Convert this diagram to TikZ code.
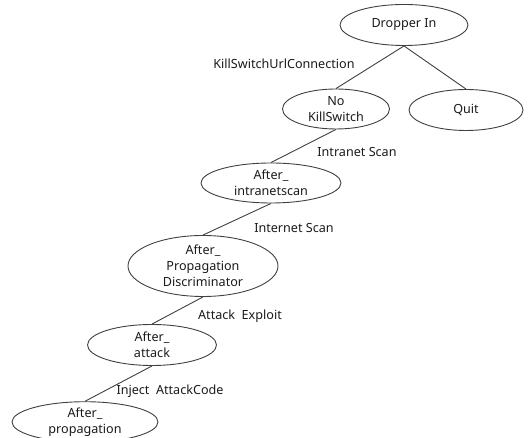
\documentclass[tikz,border=0pt]{standalone}
\usepackage{fontspec}
\setmainfont{Noto Sans}
\usetikzlibrary{shapes.geometric}
\definecolor{TreeLine}{HTML}{404040}
\definecolor{TreeText}{HTML}{1A1A1A}

\tikzset{
  state/.style={ellipse,draw=TreeLine,line width=0.9pt,inner sep=0pt,align=center,
    text=TreeText,font=\fontsize{12.6}{16}\selectfont},
  trans/.style={text=TreeText,inner sep=0pt,font=\fontsize{12.6}{16}\selectfont},
  link/.style={draw=TreeLine,line width=0.9pt}
}

\begin{document}
\begin{tikzpicture}[x=1pt,y=1pt]
\path[use as bounding box] (0,0) rectangle (530,438);
% states (y counted up from the bottom edge)
\node[state,minimum width=128,minimum height=41] (dropper) at (404,413) {Dropper In};
\node[state,minimum width=107,minimum height=40] (nokill) at (336,329) {No\\KillSwitch};
\node[state,minimum width=114,minimum height=41] (quit) at (466,328) {Quit};
\node[state,minimum width=140,minimum height=40] (intra) at (271,255) {After\_\\intranetscan};
\node[state,minimum width=150,minimum height=61] (discr) at (203,172) {After\_\\Propagation\\Discriminator};
\node[state,minimum width=129,minimum height=41] (attack) at (152,93) {After\_\\attack};
\node[state,minimum width=146,minimum height=34] (propag) at (85,16) {After\_\\propagation};
% transitions
\draw[link] (dropper.south) -- (nokill.north);
\draw[link] (dropper.south) -- (quit.north);
\draw[link] (nokill.south) -- (intra.north);
\draw[link] (intra.south) -- (discr.north);
\draw[link] (discr.south) -- (attack.north);
\draw[link] (attack.south) -- (propag.north);
% labels
\node[trans] (lkill) at (284,374) {KillSwitchUrlConnection};
\node[trans] (lintra) at (357,286) {Intranet Scan};
\node[trans] (linter) at (294,210) {Internet Scan};
\node[trans] (lexpl) at (240,122) {Attack\ \ Exploit};
\node[trans] (linject) at (170,47) {Inject\ \ AttackCode};
\end{tikzpicture}
\end{document}
